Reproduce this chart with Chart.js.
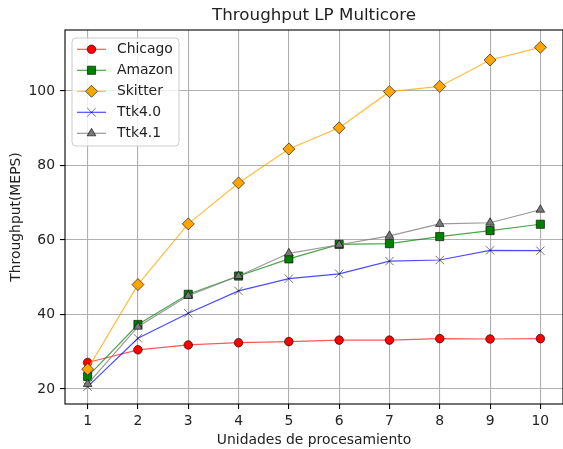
<!DOCTYPE html>
<html>
<head>
<meta charset="utf-8">
<script src="https://cdn.jsdelivr.net/npm/chart.js@4.4.1/dist/chart.umd.min.js"></script>
<style>
    body { margin: 0; overflow: hidden; background: #fff; }
    #wrap { width: 570px; height: 449px; }
</style>
</head>
<body>
<div id="wrap"><canvas id="lpChart"></canvas></div>
<script>
const units = [1, 2, 3, 4, 5, 6, 7, 8, 9, 10];
const chicago = [27.1, 30.5, 31.8, 32.4, 32.7, 33.1, 33.1, 33.5, 33.4, 33.5];
const amazon = [23.3, 37.3, 45.4, 50.3, 54.9, 58.8, 59.0, 60.9, 62.5, 64.2];
const skitter = [25.3, 48.0, 64.3, 75.3, 84.4, 90.1, 99.8, 101.2, 108.3, 111.7];
const ttk40 = [20.6, 33.6, 40.3, 46.3, 49.6, 50.9, 54.3, 54.6, 57.2, 57.1];
const ttk41 = [21.3, 36.7, 45.0, 50.3, 56.4, 58.7, 61.1, 64.3, 64.6, 68.1];
const yTicks = [20, 40, 60, 80, 100];
const xTicks = [1, 2, 3, 4, 5, 6, 7, 8, 9, 10];
const chartTitle = "Throughput LP Multicore";

const FONT = "'DejaVu Sans', sans-serif";
const EDGE = "rgba(0,0,0,0.6)";

function toPoints(values) {
    return values.map((v, i) => ({ x: units[i], y: v }));
}

function makeSet(label, values, line, fill, style, radius, order) {
    return {
        label: label,
        data: toPoints(values),
        borderColor: line,
        borderWidth: 1.2,
        pointStyle: style,
        pointRadius: radius,
        pointHoverRadius: radius,
        pointBackgroundColor: fill,
        pointBorderColor: style === "crossRot" ? "rgba(0,0,0,0.55)" : EDGE,
        pointBorderWidth: 1,
        tension: 0,
        order: order
    };
}

const datasets = [
    makeSet("Chicago", chicago, "rgba(255,0,0,0.65)", "#ff0000", "circle", 4.3, 5),
    makeSet("Amazon", amazon, "rgba(0,128,0,0.7)", "#008000", "rect", 5.8, 4),
    makeSet("Skitter", skitter, "rgba(255,165,0,0.75)", "#ffa500", "rectRot", 6, 3),
    makeSet("Ttk4.0", ttk40, "rgba(0,0,255,0.7)", "#0000ff", "crossRot", 5.9, 2),
    makeSet("Ttk4.1", ttk41, "rgba(128,128,128,0.8)", "#777777", "triangle", 5, 1)
];

function drawMarker(ctx, style, x, y, r) {
    ctx.beginPath();
    if (style === "circle") {
        ctx.arc(x, y, r, 0, Math.PI * 2);
    } else if (style === "rect") {
        const s = r * Math.SQRT1_2;
        ctx.rect(x - s, y - s, 2 * s, 2 * s);
    } else if (style === "rectRot") {
        ctx.moveTo(x, y - r);
        ctx.lineTo(x + r, y);
        ctx.lineTo(x, y + r);
        ctx.lineTo(x - r, y);
        ctx.closePath();
    } else if (style === "triangle") {
        const a = 2 * Math.PI / 3;
        ctx.moveTo(x, y - r);
        ctx.lineTo(x + Math.sin(a) * r, y - Math.cos(a) * r);
        ctx.lineTo(x + Math.sin(2 * a) * r, y - Math.cos(2 * a) * r);
        ctx.closePath();
    } else if (style === "crossRot") {
        const s = r * Math.SQRT1_2;
        ctx.moveTo(x - s, y - s);
        ctx.lineTo(x + s, y + s);
        ctx.moveTo(x + s, y - s);
        ctx.lineTo(x - s, y + s);
        ctx.stroke();
        return;
    }
    ctx.fill();
    ctx.stroke();
}

const framePlugin = {
    id: "frame",
    afterDatasetsDraw(chart) {
        const { ctx, chartArea: a } = chart;
        ctx.save();
        ctx.strokeStyle = "#000";
        ctx.lineWidth = 1.1;
        ctx.strokeRect(a.left, a.top, a.right - a.left, a.bottom - a.top);
        ctx.restore();
    },
    afterDraw(chart) {
        const { ctx, chartArea: a } = chart;
        ctx.save();
        // title centred over the axes, like matplotlib
        ctx.fillStyle = "#222";
        ctx.font = "16.7px " + FONT;
        ctx.textAlign = "center";
        ctx.textBaseline = "alphabetic";
        ctx.fillText(chartTitle, (a.left + a.right) / 2, 20);

        const bx = 72, by = 38, bw = 107, bh = 108;
        ctx.beginPath();
        ctx.roundRect(bx, by, bw, bh, 4);
        ctx.fillStyle = "rgba(255,255,255,0.8)";
        ctx.fill();
        ctx.strokeStyle = "#cccccc";
        ctx.lineWidth = 1;
        ctx.stroke();

        const rows = [49.3, 70.3, 91.3, 112.3, 133.3];
        chart.data.datasets.forEach((ds, i) => {
            const y = rows[i];
            ctx.beginPath();
            ctx.moveTo(77, y);
            ctx.lineTo(106, y);
            ctx.strokeStyle = ds.borderColor;
            ctx.lineWidth = ds.borderWidth;
            ctx.stroke();
            ctx.fillStyle = ds.pointBackgroundColor;
            ctx.strokeStyle = ds.pointBorderColor;
            ctx.lineWidth = 1;
            drawMarker(ctx, ds.pointStyle, 91.5, y, ds.pointRadius);
            ctx.fillStyle = "#222";
            ctx.font = "13.9px " + FONT;
            ctx.textBaseline = "middle";
            ctx.textAlign = "left";
            ctx.fillText(ds.label, 117, y);
        });
        ctx.restore();
    }
};

new Chart(document.getElementById("lpChart"), {
    type: "line",
    data: { datasets: datasets },
    options: {
        responsive: true,
        maintainAspectRatio: false,
        animation: false,
        events: [],
        layout: { padding: { left: 0, right: 4, top: 30, bottom: 0 } },
        plugins: {
            legend: { display: false },
            tooltip: { enabled: false },
            title: { display: false }
        },
        scales: {
            x: {
                type: "linear",
                min: 0.55,
                max: 10.45,
                afterBuildTicks: (scale) => { scale.ticks = xTicks.map(v => ({ value: v })); },
                afterFit: (scale) => { scale.height = 45; },
                grid: { color: "#b0b0b0", lineWidth: 1.1, tickLength: 5, tickColor: "#000" },
                border: { display: false },
                ticks: {
                    color: "#222",
                    padding: 4,
                    maxRotation: 0,
                    autoSkip: false,
                    font: { family: FONT, size: 13.9 }
                },
                title: {
                    display: true,
                    text: "Unidades de procesamiento",
                    color: "#222",
                    font: { family: FONT, size: 13.9 },
                    padding: { top: 0, bottom: 0 }
                }
            },
            y: {
                min: 15.95,
                max: 116.35,
                afterBuildTicks: (scale) => { scale.ticks = yTicks.map(v => ({ value: v })); },
                afterFit: (scale) => { scale.width = 65; },
                grid: { color: "#b0b0b0", lineWidth: 1.1, tickLength: 5, tickColor: "#000" },
                border: { display: false },
                ticks: {
                    color: "#222",
                    padding: 5,
                    font: { family: FONT, size: 13.9 }
                },
                title: {
                    display: true,
                    text: "Throughput(MEPS)",
                    color: "#222",
                    font: { family: FONT, size: 13.9 },
                    padding: { top: 8, bottom: 0 }
                }
            }
        }
    },
    plugins: [framePlugin]
});
</script>
</body>
</html>
